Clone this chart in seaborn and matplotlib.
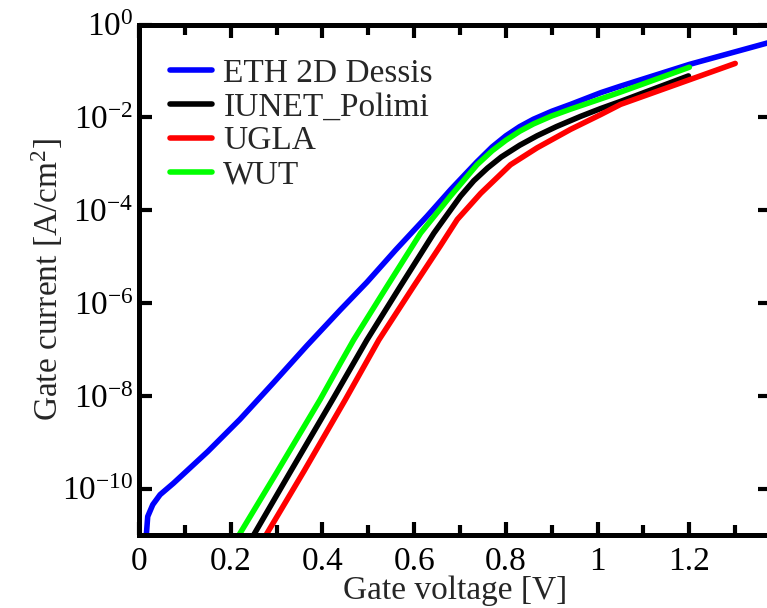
import numpy as np
import pandas as pd
import matplotlib
matplotlib.use("Agg")
import matplotlib.pyplot as plt
import matplotlib.ticker as mticker
import seaborn as sns

# ── data (gate voltage [V], gate current [A/cm^2]) ──
eth_v = [0.016, 0.019, 0.03, 0.046, 0.075, 0.15, 0.22, 0.293, 0.366, 0.439, 0.497,
         0.56, 0.628, 0.68, 0.737, 0.77, 0.80, 0.83, 0.86, 0.90, 0.941, 1.007, 1.05,
         1.2, 1.378]
eth_i = [1.0e-11, 2.5e-11, 4.5e-11, 7.4e-11, 1.3e-10, 6.3e-10, 3.1e-9, 1.9e-8, 1.2e-7,
         7.1e-7, 2.8e-6, 1.4e-5, 7.4e-5, 2.8e-4, 1.1e-3, 2.3e-3, 4.0e-3, 6.3e-3, 9.1e-3,
         1.35e-2, 1.9e-2, 3.4e-2, 4.7e-2, 0.138, 0.42]

iunet_v = [0.25, 0.33, 0.424, 0.497, 0.570, 0.643, 0.701, 0.73, 0.76, 0.79, 0.83,
           0.868, 0.91, 0.963, 1.007, 1.05, 1.198]
iunet_i = [1.0e-11, 2.3e-10, 8.9e-9, 1.6e-7, 2.3e-6, 3.2e-5, 2.0e-4, 4.3e-4, 8.1e-4,
           1.4e-3, 2.5e-3, 4.0e-3, 6.3e-3, 1.05e-2, 1.55e-2, 2.2e-2, 7.8e-2]

ugla_v = [0.277, 0.36, 0.45, 0.523, 0.599, 0.657, 0.694, 0.745, 0.810, 0.868, 0.941,
          1.007, 1.05, 1.3]
ugla_i = [1.0e-11, 2.4e-10, 8.3e-9, 1.6e-7, 2.3e-6, 1.7e-5, 6.3e-5, 2.3e-4, 9.5e-4,
          2.2e-3, 5.5e-3, 1.15e-2, 1.9e-2, 0.145]

wut_v = [0.215, 0.30, 0.395, 0.439, 0.468, 0.541, 0.614, 0.679, 0.737, 0.77, 0.80,
         0.83, 0.86, 0.90, 0.941, 1.007, 1.05, 1.2]
wut_i = [8.9e-12, 2.2e-10, 8.3e-9, 5.0e-8, 1.6e-7, 2.3e-6, 3.2e-5, 2.0e-4, 9.5e-4,
         1.9e-3, 3.2e-3, 5.0e-3, 7.2e-3, 1.07e-2, 1.5e-2, 2.5e-2, 3.5e-2, 0.12]

labels = ["ETH 2D Dessis", "IUNET_Polimi", "UGLA", "WUT"]
colors = ["#0000ff", "#000000", "#ff0000", "#00ff00"]

df = pd.concat([
    pd.DataFrame({"V": eth_v, "I": eth_i, "model": labels[0]}),
    pd.DataFrame({"V": iunet_v, "I": iunet_i, "model": labels[1]}),
    pd.DataFrame({"V": ugla_v, "I": ugla_i, "model": labels[2]}),
    pd.DataFrame({"V": wut_v, "I": wut_i, "model": labels[3]}),
], ignore_index=True)

# ── style ──
sns.set_theme(style="ticks")
plt.rcParams["font.family"] = ["Liberation Serif", "DejaVu Serif"]
plt.rcParams["mathtext.fontset"] = "custom"
plt.rcParams["mathtext.rm"] = "Liberation Serif"
plt.rcParams["mathtext.it"] = "Liberation Serif:italic"

fig = plt.figure(figsize=(7.67, 6.08), dpi=100)
ax = fig.add_axes([139 / 767, 73 / 608, 632 / 767, 510.5 / 608])

sns.lineplot(data=df, x="V", y="I", hue="model", hue_order=labels,
             palette=colors, linewidth=4, sort=False, estimator=None, ax=ax)

ax.set_yscale("log")
ax.set_xlim(0, 1.378)
ax.set_ylim(1e-11, 1e0)

ax.xaxis.set_major_locator(mticker.FixedLocator([0, 0.2, 0.4, 0.6, 0.8, 1.0, 1.2]))
ax.xaxis.set_minor_locator(mticker.FixedLocator([0.1, 0.3, 0.5, 0.7, 0.9, 1.1, 1.3]))
ax.xaxis.set_major_formatter(mticker.FuncFormatter(lambda v, p: f"{v:g}"))
yt = [1e-10, 1e-8, 1e-6, 1e-4, 1e-2, 1e0]
ax.yaxis.set_major_locator(mticker.FixedLocator(yt))
ax.yaxis.set_minor_locator(mticker.NullLocator())
ax.yaxis.set_major_formatter(mticker.FuncFormatter(
    lambda v, p: r"$\mathregular{10^{%d}}$" % round(np.log10(v))))

for s in ax.spines.values():
    s.set_linewidth(3.6)
    s.set_color("black")
ax.tick_params(which="both", direction="in", top=True, right=True,
               width=3, color="black", labelsize=24, labelcolor="black")
ax.tick_params(which="major", length=9.5)
ax.tick_params(which="minor", length=7.5)
ax.tick_params(axis="x", pad=8)
ax.tick_params(axis="y", pad=4)

ax.set_xlabel("Gate voltage [V]", fontsize=24, labelpad=-1)
ax.set_ylabel(r"Gate current [A/cm$^2$]", fontsize=24, labelpad=-2)

ax.legend(loc="upper left", bbox_to_anchor=(0.049, 0.934), frameon=False,
          fontsize=24, handlelength=1.27, handletextpad=0.33,
          labelspacing=0.1, borderpad=0, borderaxespad=0)

plt.savefig("out.png", dpi=100)
plt.close()
